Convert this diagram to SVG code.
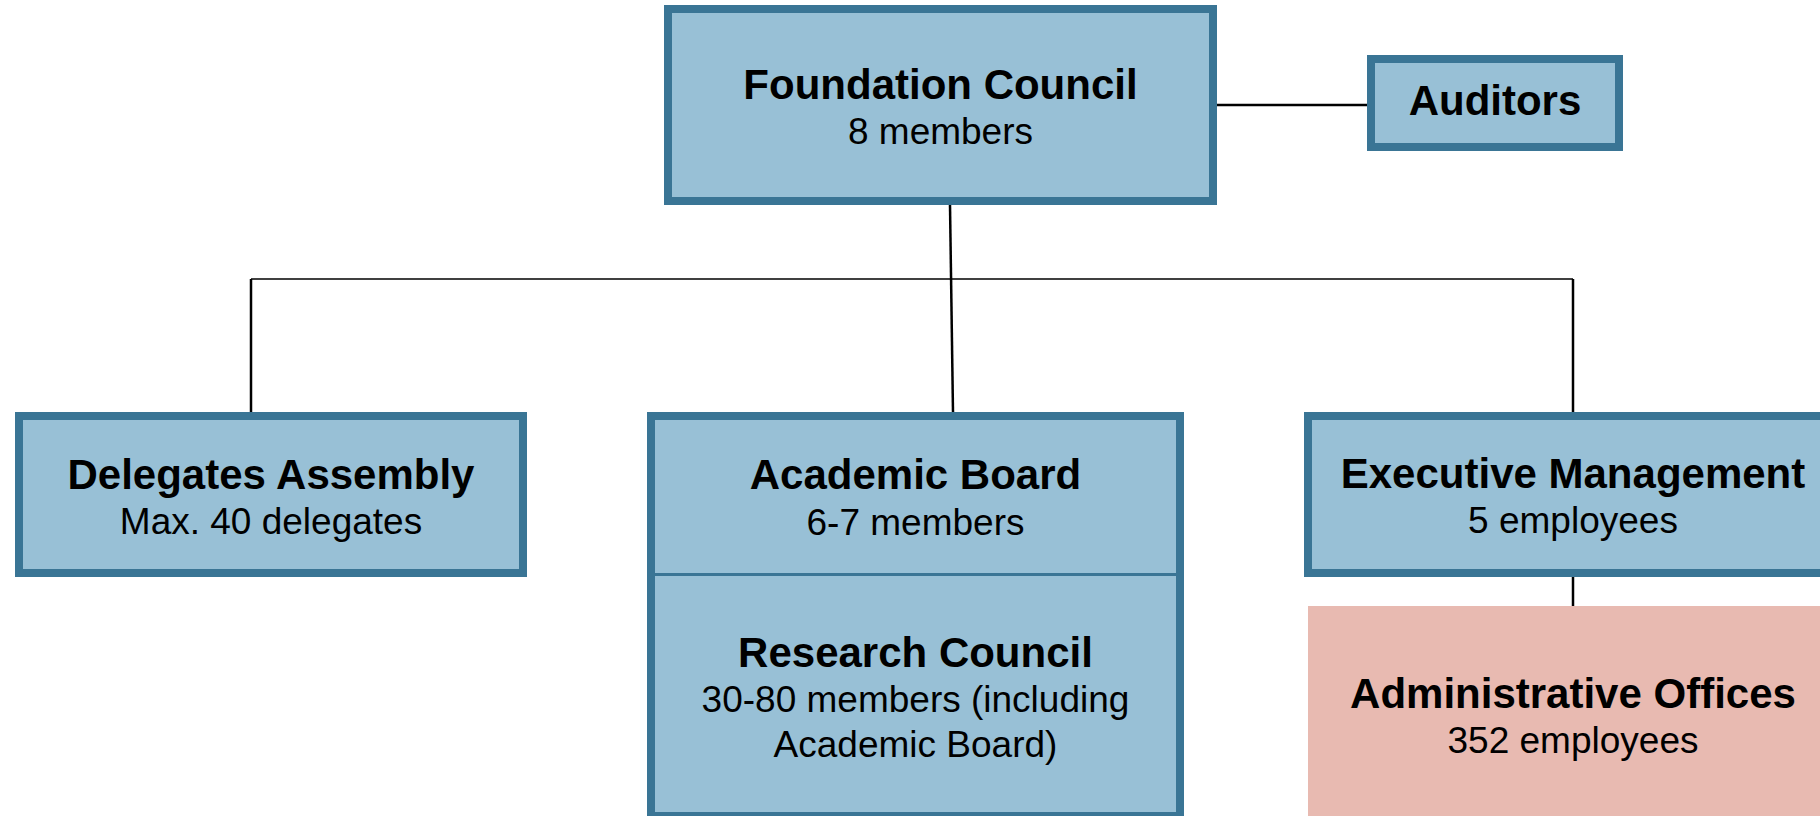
<svg xmlns="http://www.w3.org/2000/svg" width="1820" height="816" viewBox="0 0 1820 816">
<style>
.box{fill:#98C0D6;stroke:#3A7595;stroke-width:8}
.pink{fill:#E8BAB1}
.t{font-family:"Liberation Sans",Arial,sans-serif;font-weight:bold;font-size:42px;fill:#000;text-anchor:middle}
.s{font-family:"Liberation Sans",Arial,sans-serif;font-size:37px;fill:#000;text-anchor:middle}
.c{stroke:#000;stroke-width:2.5;fill:none}
</style>
<rect width="1820" height="816" fill="#fff"/>
<g id="connectors">
<line class="c" x1="1217" y1="105" x2="1367" y2="105"/>
<line class="c" x1="950" y1="205" x2="953" y2="412"/>
<line class="c" x1="251" y1="279" x2="1573" y2="279" style="stroke-width:1.6"/>
<line class="c" x1="251" y1="279" x2="251" y2="412"/>
<line class="c" x1="1573" y1="279" x2="1573" y2="412"/>
<line class="c" x1="1573" y1="577" x2="1573" y2="606"/>
</g>
<g id="foundation-council">
<rect class="box" x="668" y="9" width="545" height="192"/>
<text class="t" x="940.5" y="99">Foundation Council</text>
<text class="s" x="940.5" y="144">8 members</text>
</g>
<g id="auditors">
<rect class="box" x="1371" y="59" width="248" height="88"/>
<text class="t" x="1495" y="115">Auditors</text>
</g>
<g id="delegates-assembly">
<rect class="box" x="19" y="416" width="504" height="157"/>
<text class="t" x="271" y="489">Delegates Assembly</text>
<text class="s" x="271" y="534">Max. 40 delegates</text>
</g>
<g id="academic-board">
<rect class="box" x="651" y="416" width="529" height="400"/>
<line x1="651" y1="574.5" x2="1180" y2="574.5" stroke="#3A7595" stroke-width="3"/>
<text class="t" x="915.5" y="489">Academic Board</text>
<text class="s" x="915.5" y="535">6-7 members</text>
</g>
<g id="research-council">
<text class="t" x="915.5" y="667">Research Council</text>
<text class="s" x="915.5" y="712">30-80 members (including</text>
<text class="s" x="915.5" y="757">Academic Board)</text>
</g>
<g id="executive-management">
<rect class="box" x="1308" y="416" width="530" height="157"/>
<text class="t" x="1573" y="488">Executive Management</text>
<text class="s" x="1573" y="533">5 employees</text>
</g>
<g id="administrative-offices">
<rect class="pink" x="1308" y="606" width="530" height="220"/>
<text class="t" x="1573" y="708">Administrative Offices</text>
<text class="s" x="1573" y="753">352 employees</text>
</g>
</svg>
